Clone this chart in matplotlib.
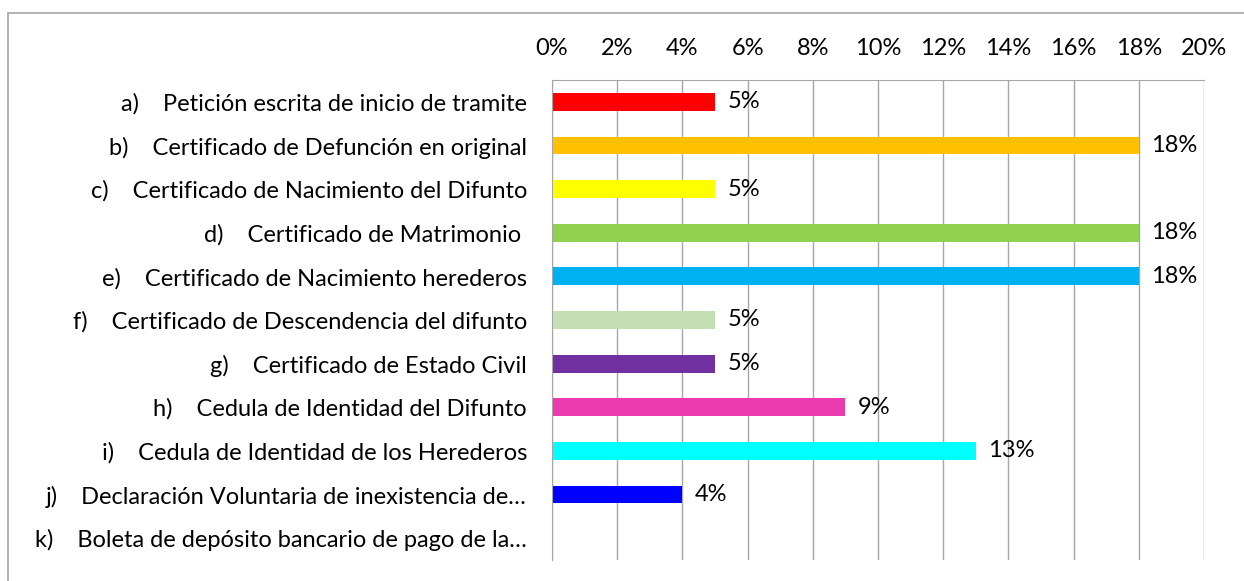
import matplotlib.pyplot as plt
from matplotlib.patches import Rectangle

plt.rcParams['font.family'] = ['Lato', 'DejaVu Sans']

letters = ['a)', 'b)', 'c)', 'd)', 'e)', 'f)', 'g)', 'h)', 'i)', 'j)', 'k)']
items = ['Petición escrita de inicio de tramite',
         'Certificado de Defunción en original',
         'Certificado de Nacimiento del Difunto',
         'Certificado de Matrimonio ',
         'Certificado de Nacimiento herederos',
         'Certificado de Descendencia del difunto',
         'Certificado de Estado Civil',
         'Cedula de Identidad del Difunto',
         'Cedula de Identidad de los Herederos',
         'Declaración Voluntaria de inexistencia de…',
         'Boleta de depósito bancario de pago de la…']
values = [5, 18, 5, 18, 18, 5, 5, 9, 13, 4, 0]
colors = ['#FF0000', '#FFC000', '#FFFF00', '#92D050', '#00B0F0', '#C4DFB4',
          '#7030A0', '#EA3AAD', '#00FFFF', '#0000FF', '#FFFFFF']
xticks = list(range(0, 21, 2))
fs = 17

fig = plt.figure(figsize=(12.44, 5.81), dpi=100)
# outer chart frame
fig.patches.append(Rectangle((8 / 1244, -0.05), 1.2, 1 - 13 / 581 + 0.05,
                             transform=fig.transFigure, fill=False,
                             edgecolor='#A6A6A6', linewidth=1.2))
ax = fig.add_axes([552 / 1244, 21 / 581, 652 / 1244, 480 / 581])

y = list(range(len(items)))
bars = ax.barh(y, values, height=0.41, color=colors)
labels = [f'{v}%' if v > 0 else '' for v in values]
ax.bar_label(bars, labels=labels, padding=9, fontsize=fs)

ax.set_xlim(0, 20)
ax.set_ylim(len(items) - 0.5, -0.5)
ax.set_xticks(xticks)
ax.set_xticklabels([f'{t}%' for t in xticks], fontsize=fs)
ax.xaxis.tick_top()
ax.tick_params(axis='x', length=0, pad=15)
ax.tick_params(axis='y', length=0, pad=18)
ax.set_yticks(y)
ax.set_yticklabels([f'{l}    {t}' for l, t in zip(letters, items)], fontsize=fs)
ax.grid(axis='x', color='#A6A6A6', linewidth=1)
ax.set_axisbelow(True)
for s in ['bottom', 'right']:
    ax.spines[s].set_visible(False)
ax.spines['top'].set_color('#A6A6A6')
ax.spines['left'].set_color('#A6A6A6')

fig.savefig('out.png', dpi=100)
